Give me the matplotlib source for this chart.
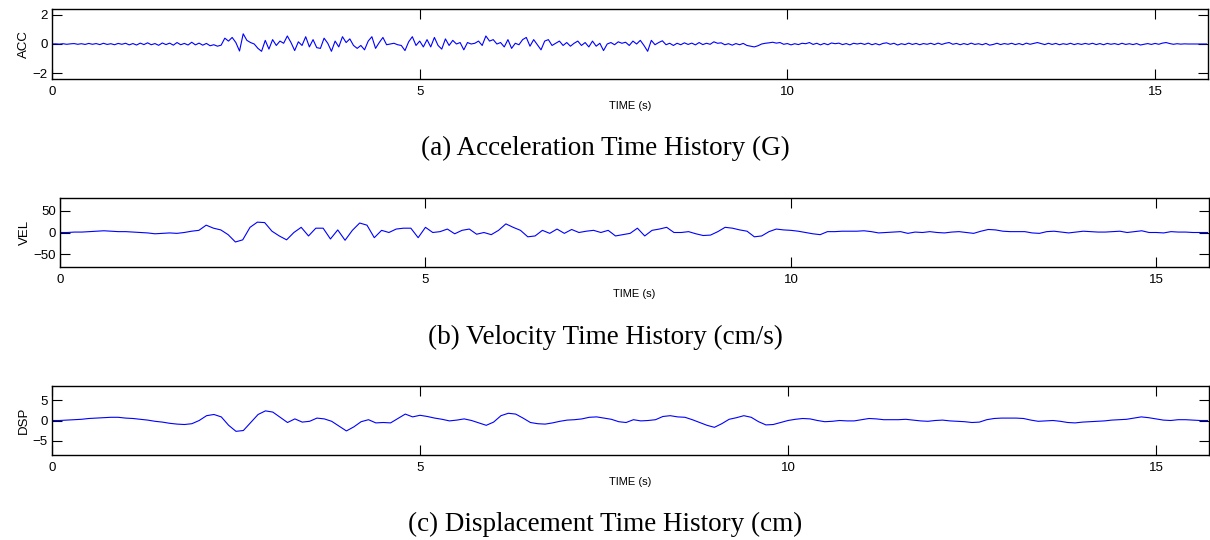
import numpy as np
import matplotlib.pyplot as plt

plt.rcParams['font.family'] = ['Liberation Sans', 'DejaVu Sans']

# acceleration (G), sampled every 0.05 s
dt_acc = 0.05
acc = [
    0.00, 0.01, -0.01, 0.02, -0.02, 0.01, 0.03, -0.02, 0.02, -0.03, 0.04, -0.02, 0.03, -0.04, 0.05, -0.03, 0.02, -0.05, 0.04, -0.02,
    0.05, -0.06, 0.03, -0.07, 0.06, -0.04, 0.08, -0.05, 0.03, -0.09, 0.07, -0.04, 0.06, -0.08, 0.10, -0.05, 0.04, -0.07, 0.12, -0.06,
    0.06, -0.08, 0.04, -0.12, -0.05, -0.15, -0.08, 0.40, 0.20, 0.45, 0.10, -0.48, 0.70, 0.25, 0.10, 0.00, -0.30, -0.50, 0.25, -0.35,
    0.30, -0.10, 0.20, 0.05, 0.55, 0.10, -0.45, 0.15, -0.10, 0.50, -0.20, 0.30, -0.25, -0.30, 0.40, 0.05, -0.50, 0.20, -0.20, 0.50,
    0.10, 0.35, -0.10, -0.30, -0.10, -0.40, 0.20, 0.50, -0.30, 0.10, 0.45, -0.05, 0.00, 0.05, -0.05, -0.10, -0.45, 0.15, 0.50, -0.10,
    0.20, -0.20, 0.30, -0.20, 0.45, -0.10, -0.35, 0.35, -0.10, 0.25, 0.00, 0.10, -0.40, 0.10, 0.00, 0.05, 0.20, -0.10, 0.55, 0.20,
    0.30, 0.00, 0.10, -0.20, 0.30, -0.30, 0.05, -0.05, 0.30, 0.45, -0.15, 0.30, -0.05, -0.40, 0.20, 0.30, -0.10, 0.05, 0.20, -0.10,
    0.10, -0.15, 0.05, 0.20, -0.10, 0.10, -0.20, 0.20, -0.15, 0.05, -0.45, 0.00, 0.10, -0.05, 0.15, 0.05, 0.12, -0.10, 0.20, 0.00,
    0.25, -0.10, -0.50, 0.25, -0.05, 0.10, 0.22, -0.05, 0.05, -0.10, 0.05, -0.05, 0.08, -0.03, 0.06, -0.06, 0.10, -0.04, 0.05, -0.02,
    0.15, 0.05, 0.08, -0.05, 0.02, -0.08, 0.03, -0.05, 0.04, -0.10, -0.15, -0.20, -0.12, 0.00, 0.05, 0.08, 0.12, 0.06, 0.10, -0.02,
    0.03, -0.06, 0.02, -0.04, 0.05, 0.02, 0.10, -0.03, 0.05, -0.06, 0.04, -0.05, 0.07, 0.02, 0.06, -0.04, 0.03, -0.06, 0.05, 0.00,
    0.05, -0.03, 0.06, -0.05, 0.03, -0.06, 0.04, 0.08, -0.02, 0.05, -0.07, 0.02, -0.04, 0.06, -0.03, 0.04, -0.05, 0.03, -0.02, 0.05,
    -0.04, 0.06, -0.03, 0.05, 0.10, -0.02, 0.04, -0.05, 0.03, -0.04, 0.06, -0.03, 0.02, -0.05, 0.04, -0.08, -0.03, 0.05, -0.04, 0.03,
    -0.02, 0.05, -0.04, 0.03, -0.05, 0.06, -0.02, 0.04, 0.10, 0.03, -0.04, 0.05, -0.03, 0.04, -0.05, 0.02, -0.03, 0.05, -0.04, 0.03,
    -0.03, 0.04, -0.02, 0.05, -0.04, 0.03, -0.05, 0.04, -0.02, 0.03, -0.04, 0.05, -0.03, 0.02, -0.04, 0.03, -0.07, -0.02, 0.03, -0.03,
    0.04, -0.02, 0.06, 0.10, 0.03, -0.02, 0.02, -0.01, 0.01, 0.00, 0.00, 0.00, 0.00, 0.00, 0.00,
]

# velocity (cm/s), every 0.1 s
dt_vel = 0.1
vel = [
    0, 0, 1, 1, 2, 3, 4, 3, 2, 2,
    1, 0, -1, -3, -2, -1, -2, 0, 3, 5,
    17, 10, 6, -5, -22, -17, 12, 24, 23, 3,
    -8, -17, 0, 12, -8, 10, 10, -15, 6, -18,
    5, 22, 17, -12, 5, 0, 8, 10, 10, -12,
    12, 0, 2, 8, -3, 5, 8, -4, 0, -5,
    5, 20, 12, 5, -10, -8, 5, -2, 8, -2,
    7, 0, 3, 5, 0, 5, -8, -5, -2, 10,
    -8, 5, 8, 12, 0, 0, 2, -3, -7, -6,
    2, 12, 10, 6, 3, -10, -8, 2, 8, 6,
    5, 3, 0, -3, -5, 2, 2, 3, 3, 3,
    4, 2, -1, 0, 1, 2, -2, 1, 0, 2,
    0, -1, 1, 2, 0, -2, 3, 7, 6, 3,
    2, 2, 2, -1, -2, 2, 3, 1, -1, 1,
    3, 2, 1, 1, 2, 3, 0, 2, 4, 0,
    0, -1, 2, 1, 1, 0, 0, 0,
]

# displacement (cm), every 0.1 s
dt_dsp = 0.1
dsp = [
    0.0, 0.0, 0.1, 0.2, 0.3, 0.5, 0.6, 0.7, 0.8, 0.8,
    0.6, 0.5, 0.3, 0.1, -0.2, -0.4, -0.7, -0.9, -1.0, -0.8,
    0.0, 1.2, 1.5, 0.9, -1.2, -2.7, -2.5, -0.5, 1.5, 2.4,
    2.1, 0.8, -0.5, 0.4, -0.4, -0.2, 0.6, 0.4, -0.2, -1.4,
    -2.6, -1.6, -0.3, 0.2, -0.6, -0.5, -0.6, 0.5, 1.6, 0.9,
    1.3, 1.0, 0.6, 0.3, -0.1, 0.1, 0.4, 0.0, -0.6, -1.2,
    -0.4, 1.2, 1.8, 1.6, 0.6, -0.5, -0.8, -0.9, -0.6, -0.2,
    0.1, 0.2, 0.4, 0.8, 0.9, 0.6, 0.3, -0.3, -0.5, 0.2,
    -0.1, 0.0, 0.2, 1.0, 1.2, 0.9, 0.8, 0.2, -0.5, -1.2,
    -1.7, -0.8, 0.3, 0.7, 1.2, 0.8, -0.3, -1.1, -1.0, -0.5,
    0.0, 0.3, 0.5, 0.4, 0.0, -0.3, -0.2, 0.0, -0.1, -0.1,
    0.2, 0.5, 0.4, 0.2, 0.2, 0.2, 0.3, 0.1, -0.1, -0.2,
    0.0, 0.1, -0.1, -0.2, -0.3, -0.5, -0.4, 0.2, 0.5, 0.6,
    0.6, 0.6, 0.5, 0.1, -0.2, -0.1, 0.0, -0.2, -0.5, -0.6,
    -0.4, -0.3, -0.2, -0.1, 0.1, 0.2, 0.3, 0.6, 0.9, 0.7,
    0.4, 0.1, 0.0, 0.2, 0.2, 0.1, 0.0, 0.0,
]

xmax = 15.72
panels = [
    (acc, dt_acc, 'ACC', [-2, 0, 2], 2.4, '(a) Acceleration Time History (G)',
     [52, 9, 1208, 79], 148),
    (vel, dt_vel, 'VEL', [-50, 0, 50], 80, '(b) Velocity Time History (cm/s)',
     [60, 198, 1209, 267], 337),
    (dsp, dt_dsp, 'DSP', [-5, 0, 5], 8.6, '(c) Displacement Time History (cm)',
     [52, 386, 1209, 455], 524),
]

W, H = 1210, 540
fig = plt.figure(figsize=(W / 100, H / 100), dpi=100)

for vals, dt, name, yt, ylim, caption, box, cap_y in panels:
    x0, y0, x1, y1 = box
    ax = fig.add_axes([x0 / W, 1 - y1 / H, (x1 - x0) / W, (y1 - y0) / H])
    t = np.arange(len(vals)) * dt
    ax.plot(t, vals, color='#0000ff', linewidth=0.8)
    ax.set_xlim(0, xmax)
    ax.set_ylim(-ylim, ylim)
    ax.set_xticks([0, 5, 10, 15])
    ax.set_yticks(yt)
    ax.tick_params(direction='in', length=7, width=0.8, top=True, right=True,
                   labelsize=9.5, pad=5)
    ax.tick_params(axis='y', pad=3)
    for s in ax.spines.values():
        s.set_linewidth(1.0)
    ax.set_ylabel(name, fontsize=9.5, labelpad=2)
    ax.set_xlabel('TIME (s)', fontsize=8, labelpad=2)
    fig.text(0.5, 1 - cap_y / H, caption, ha='center', va='center',
             family='Liberation Serif', fontsize=19.5)

fig.savefig('out.png', dpi=100)
